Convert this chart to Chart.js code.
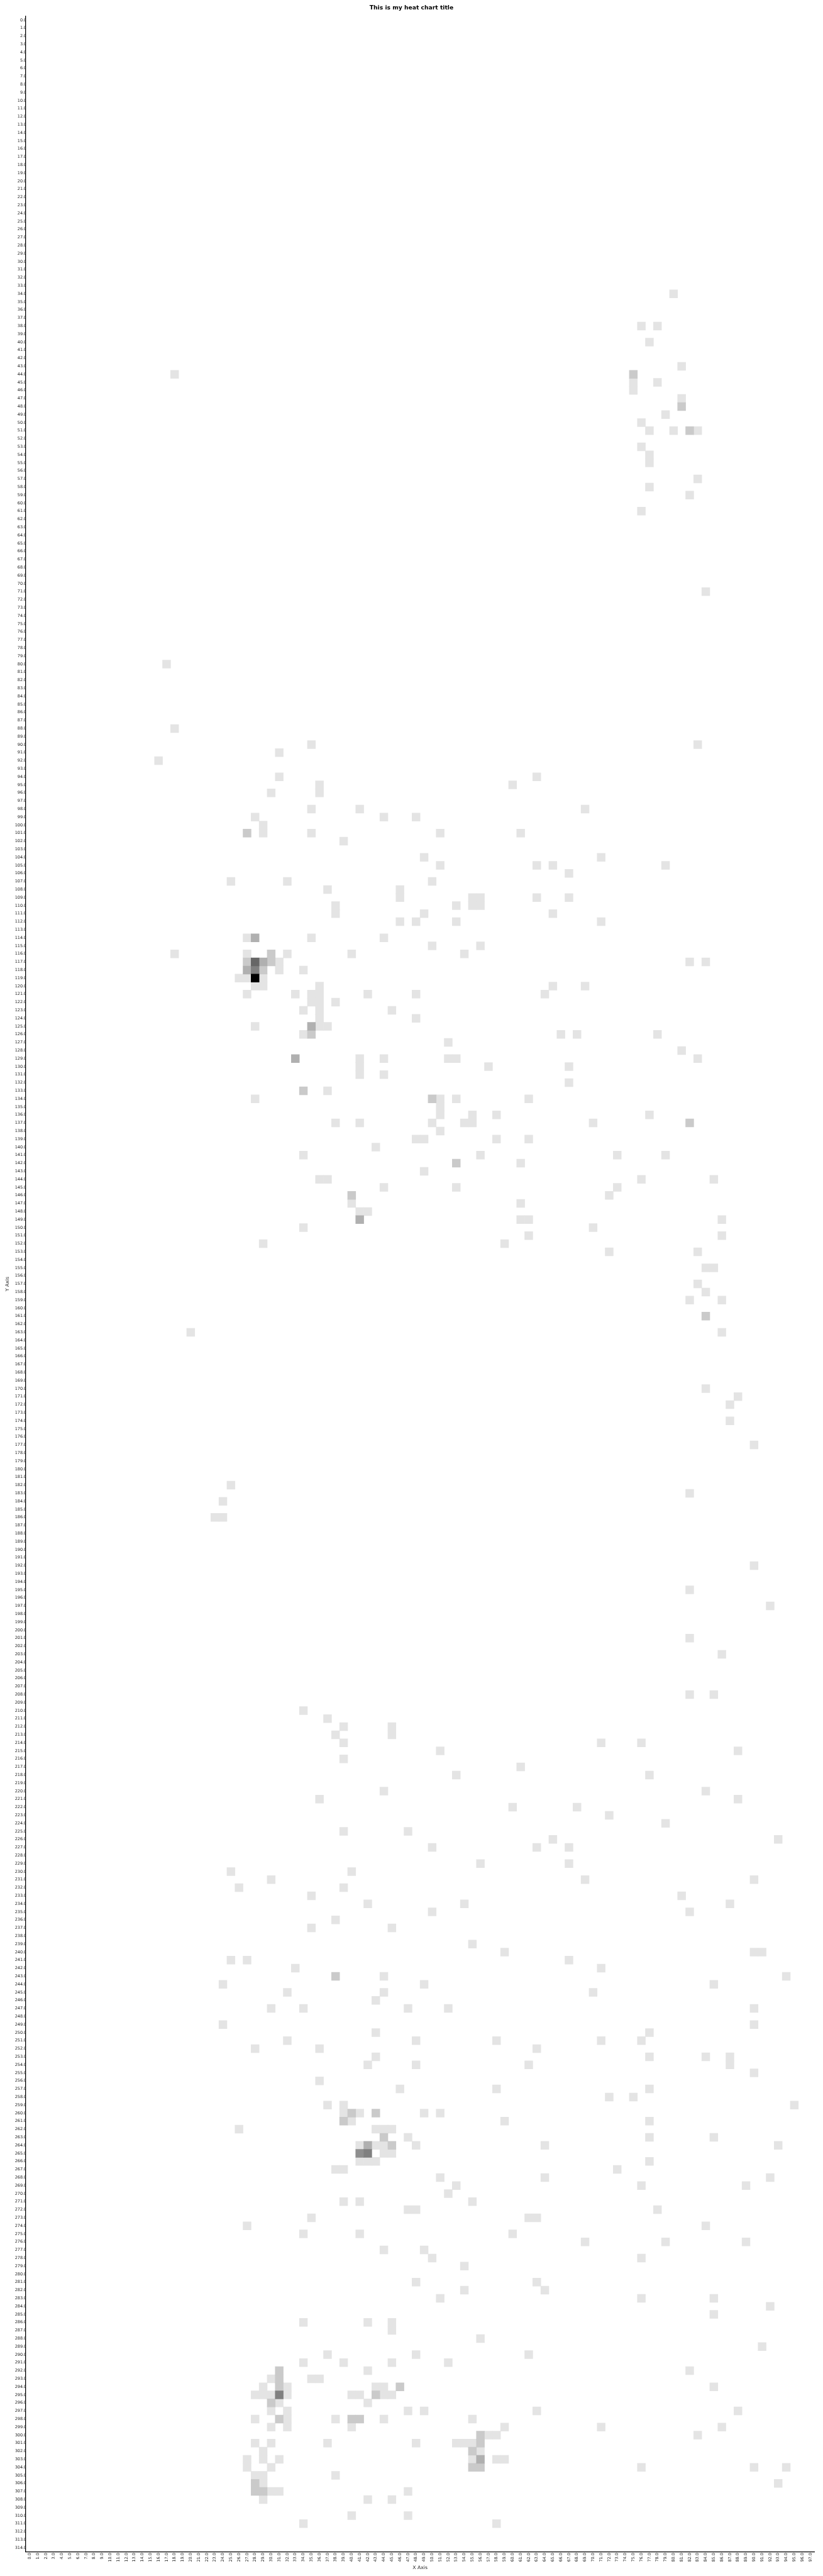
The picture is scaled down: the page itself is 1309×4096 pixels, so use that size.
<!DOCTYPE html>
<html>
<head>
<meta charset="utf-8">
<title>Heat chart</title>
<script src="https://cdn.jsdelivr.net/npm/chart.js@4"></script>
<style>
    html, body { margin: 0; padding: 0; background: #fff; }
    canvas { display: block; }
</style>
</head>
<body>
<canvas id="heatChart" width="1309" height="4096"></canvas>
<script>
// tick labels, one per column and one per row
var xLabels = Array.from({length: 98}, function(_, i) { return i.toFixed(1); });
var yLabels = Array.from({length: 315}, function(_, i) { return i.toFixed(1); });

// cells, as [row, [columns]] for each value
var valueOne = [
    [34,[80]],[38,[76,78]],[40,[77]],[43,[81]],[44,[18]],[45,[75,78]],[46,[75]],[47,[81]],[49,[79]],[50,[76]],
    [51,[77,80,83]],[53,[76]],[54,[77]],[55,[77]],[57,[83]],[58,[77]],[59,[82]],[61,[76]],[71,[84]],[80,[17]],
    [88,[18]],[90,[35,83]],[91,[31]],[92,[16]],[94,[31,63]],[95,[36,60]],[96,[30,36]],[98,[35,41,69]],
    [99,[28,44,48]],[100,[29]],[101,[29,35,51,61]],[102,[39]],[104,[49,71]],[105,[51,63,65,79]],[106,[67]],
    [107,[25,32,50]],[108,[37,46]],[109,[46,55,56,63,67]],[110,[38,53,55,56]],[111,[38,49,65]],[112,[46,48,53,71]],
    [114,[27,35,44]],[115,[50,56]],[116,[18,27,32,40,54]],[117,[31,82,84]],[118,[31,34]],[119,[26,27,29]],
    [120,[28,29,36,65,69]],[121,[27,33,35,36,42,48,64]],[122,[35,36,38]],[123,[34,36,45]],[124,[36,48]],
    [125,[28,36,37]],[126,[34,66,68,78]],[127,[52]],[128,[81]],[129,[41,44,52,53,83]],[130,[41,57,67]],[131,[41,44]],
    [132,[67]],[133,[37]],[134,[28,51,53,62]],[135,[51]],[136,[51,55,58,77]],[137,[38,41,50,54,55,70]],[138,[51]],
    [139,[48,49,58,62]],[140,[43]],[141,[34,56,73,79]],[142,[61]],[143,[49]],[144,[36,37,76,85]],[145,[44,53,73]],
    [146,[72]],[147,[40,61]],[148,[41,42]],[149,[61,62,86]],[150,[34,70]],[151,[62,86]],[152,[29,59]],[153,[72,83]],
    [155,[84,85]],[157,[83]],[158,[84]],[159,[82,86]],[163,[20,86]],[170,[84]],[171,[88]],[172,[87]],[174,[87]],
    [177,[90]],[182,[25]],[183,[82]],[184,[24]],[186,[23,24]],[192,[90]],[195,[82]],[197,[92]],[201,[82]],[203,[86]],
    [208,[82,85]],[210,[34]],[211,[37]],[212,[39,45]],[213,[38,45]],[214,[39,71,76]],[215,[51,88]],[216,[39]],
    [217,[61]],[218,[53,77]],[220,[44,84]],[221,[36,88]],[222,[60,68]],[223,[72]],[224,[79]],[225,[39,47]],
    [226,[65,93]],[227,[50,63,67]],[229,[56,67]],[230,[25,40]],[231,[30,69,90]],[232,[26,39]],[233,[35,81]],
    [234,[42,54,87]],[235,[50,82]],[236,[38]],[237,[35,45]],[239,[55]],[240,[59,90,91]],[241,[25,27,67]],[242,[33,71]],
    [243,[44,94]],[244,[24,49,85]],[245,[32,44,70]],[246,[43]],[247,[30,34,47,52,90]],[249,[24,90]],[250,[43,77]],
    [251,[32,48,58,71,76]],[252,[28,36,63]],[253,[43,77,84,87]],[254,[42,48,62,87]],[255,[90]],[256,[36]],
    [257,[46,58,77]],[258,[72,75]],[259,[37,39,95]],[260,[39,41,49,51]],[261,[40,59,77]],[262,[26,43,44,45]],
    [263,[47,77,85]],[264,[41,43,44,48,64,93]],[265,[44,45]],[266,[41,42,43,77]],[267,[38,39,73]],[268,[51,64,92]],
    [269,[53,76,89]],[270,[52]],[271,[39,41,55]],[272,[47,48,78]],[273,[35,62,63]],[274,[27,84]],[275,[34,41,60]],
    [276,[69,79,89]],[277,[44,49]],[278,[50,76]],[279,[54]],[281,[48,63]],[282,[54,64]],[283,[51,76,85]],[284,[92]],
    [285,[85]],[286,[34,42,45]],[287,[45]],[288,[56]],[289,[91]],[290,[37,48,62]],[291,[34,39,45,52]],[292,[42,82]],
    [293,[30,35,36]],[294,[29,32,43,44,85]],[295,[28,29,30,32,40,41,44,45]],[296,[31,42]],[297,[30,32,47,49,63,88]],
    [298,[28,32,38,44,55]],[299,[30,32,40,59,71,86]],[300,[57,58,83]],[301,[28,30,37,48,53,54,55]],[302,[29,56]],
    [303,[27,29,31,55,58,59]],[304,[27,30,76,90,94]],[305,[28,29,38]],[306,[29,93]],[307,[30,31,47]],[308,[29,42,45]],
    [310,[40,47]],[311,[34,58]]
];
var valueTwo = [
    [44,[75]],[48,[81]],[51,[82]],[101,[27]],[116,[30]],[117,[27,30]],[118,[29]],[126,[35]],[133,[34]],[134,[50]],
    [137,[82]],[142,[53]],[146,[40]],[161,[84]],[243,[38]],[260,[40,43]],[261,[39]],[263,[44]],[264,[45]],
    [292,[31]],[293,[31]],[294,[31,46]],[295,[43]],[296,[30]],[298,[31,40,41]],[300,[56]],[301,[56]],[302,[55]],
    [304,[55,56]],[306,[28]],[307,[28,29]]
];
var valueThree = [[114,[28]],[117,[29]],[118,[27]],[125,[35]],[129,[33]],[149,[41]],[264,[42]],[303,[56]]];
var valueFour = [[265,[41]]];
var valueFive = [[118,[28]],[265,[42]],[295,[31]]];
var valueSix = [[117,[28]]];
var valueTen = [[119,[28]]];

var valueGroups = [
    [1, valueOne], [2, valueTwo], [3, valueThree], [4, valueFour],
    [5, valueFive], [6, valueSix], [10, valueTen]
];
var greys = {1: '#e4e4e4', 2: '#cacaca', 3: '#b0b0b0', 4: '#8e8e8e', 5: '#808080', 6: '#666666', 10: '#000000'};

var cells = [];
valueGroups.forEach(function(group) {
    group[1].forEach(function(entry) {
        entry[1].forEach(function(col) {
            cells.push({x: [col, col + 1], y: yLabels[entry[0]], v: group[0]});
        });
    });
});

// the y labels run in under the plot, so the plot is painted white over them
var plotBackground = {
    id: 'plotBackground',
    beforeDatasetsDraw: function(chart) {
        var area = chart.chartArea;
        chart.ctx.fillStyle = '#ffffff';
        chart.ctx.fillRect(area.left, area.top, area.right - area.left, area.bottom - area.top);
    }
};

var fontFamily = '"DejaVu Sans", sans-serif';

new Chart(document.getElementById('heatChart').getContext('2d'), {
    type: 'bar',
    data: {
        labels: yLabels,
        datasets: [{
            data: cells,
            backgroundColor: function(ctx) { return greys[ctx.raw.v]; },
            borderWidth: 0,
            barPercentage: 1,
            categoryPercentage: 1
        }]
    },
    plugins: [plotBackground],
    options: {
        indexAxis: 'y',
        responsive: false,
        animation: false,
        plugins: {
            legend: { display: false },
            tooltip: { enabled: false },
            title: {
                display: true,
                text: 'This is my heat chart title',
                color: '#000000',
                font: { family: fontFamily, size: 9.2, weight: 'bold', lineHeight: 1.2 },
                padding: { top: 7, bottom: 7.56 }
            }
        },
        scales: {
            x: {
                type: 'linear',
                min: 0,
                max: xLabels.length,
                grid: { display: false, drawTicks: false },
                border: { display: true, color: '#000000', width: 1.3, z: 1 },
                afterBuildTicks: function(scale) {
                    scale.ticks = xLabels.map(function(label, i) { return {value: i + 0.5}; });
                },
                afterFit: function(scale) { scale.height = 38.4; },
                ticks: {
                    autoSkip: false,
                    minRotation: 90,
                    maxRotation: 90,
                    padding: 1.5,
                    color: '#222222',
                    font: { family: fontFamily, size: 6.5 },
                    callback: function(value) { return xLabels[Math.floor(value)]; }
                },
                title: {
                    display: true,
                    text: 'X Axis',
                    color: '#222222',
                    font: { family: fontFamily, size: 7.7, lineHeight: 1.2 },
                    padding: { top: 0, bottom: 8.2 }
                }
            },
            y: {
                type: 'category',
                grid: { display: false, drawTicks: false },
                border: { display: true, color: '#000000', width: 1.3, z: 1 },
                afterFit: function(scale) { scale.width = 40.96; },
                ticks: {
                    autoSkip: false,
                    padding: -1.3,
                    color: '#222222',
                    font: { family: fontFamily, size: 6.5 }
                },
                title: {
                    display: true,
                    text: 'Y Axis',
                    color: '#222222',
                    font: { family: fontFamily, size: 7.7, lineHeight: 1.2 },
                    padding: { top: 6.9, bottom: 0 }
                }
            },
            // empty axis that only keeps the margin to the right of the plot
            rightMargin: {
                type: 'linear',
                position: 'right',
                grid: { display: false, drawTicks: false },
                border: { display: false },
                ticks: { display: false },
                afterFit: function(scale) { scale.width = 13.64; }
            }
        }
    }
});
</script>
</body>
</html>
